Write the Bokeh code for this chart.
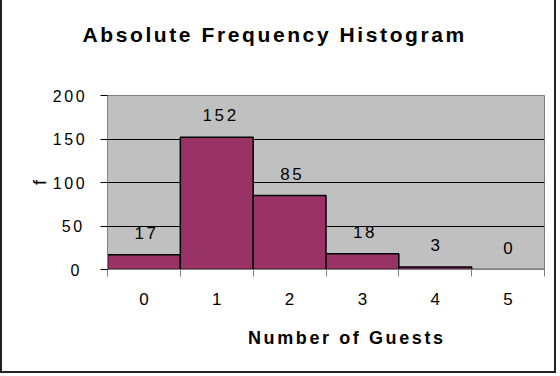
from bokeh.plotting import figure
from bokeh.models import FixedTicker, ColumnDataSource, Title
from bokeh.core.properties import value
from bokeh.embed import file_html
from bokeh.resources import INLINE

guests = [0, 1, 2, 3, 4, 5]
freq = [17, 152, 85, 18, 3, 0]
x_labels = ["0", "1", "2", "3", "4", "5"]
y_ticks = [0, 50, 100, 150, 200]
title_text = "Absolute Frequency Histogram"

FONT = "Liberation Sans"

src = ColumnDataSource(dict(
    left=[g - 0.5 for g in guests],
    right=[g + 0.5 for g in guests],
    x=guests,
    top=freq,
    label=[str(f) for f in freq],
))

p = figure(width=556, height=373, output_backend="svg", toolbar_location=None,
           x_range=(-0.5, 5.5), y_range=(0, 200),
           min_border_left=105, min_border_right=14,
           min_border_top=95, min_border_bottom=104)

p.styles = {"border-left": "2px solid #222", "border-right": "2px solid #222",
            "border-bottom": "2px solid #222", "letter-spacing": "2.6px"}

p.background_fill_color = "#C0C0C0"
p.border_fill_color = "white"
p.outline_line_color = "#808080"
p.outline_line_width = 1

# blank spacer between the frame and the title
p.add_layout(Title(text=" ", text_font_size="10px", standoff=32), "above")

p.title.text = title_text
p.title.text_font = FONT
p.title.text_font_size = "21px"
p.title.text_font_style = "bold"
p.title.text_color = "black"
p.title.align = "left"
p.title.vertical_align = "bottom"
p.title.standoff = 10
p.title.offset = -25

p.quad(left="left", right="right", top="top", bottom=0, source=src,
       fill_color="#993366", line_color="black", line_width=1.5)

p.text(x="x", y="top", text="label", source=src, y_offset=-22,
       text_align="center", text_baseline="middle",
       text_font=value(FONT), text_font_size="17px", text_color="black")

# x axis
p.xaxis.ticker = FixedTicker(ticks=guests, minor_ticks=[g - 0.5 for g in guests] + [5.5])
p.xaxis.major_label_overrides = {g: l for g, l in zip(guests, x_labels)}
p.xaxis.major_tick_out = 0
p.xaxis.major_tick_in = 0
p.xaxis.minor_tick_out = 7
p.xaxis.minor_tick_in = 0
p.xaxis.minor_tick_line_color = "#808080"
p.xaxis.axis_line_color = "#808080"
p.xaxis.major_label_standoff = 16
p.xaxis.major_label_text_font = FONT
p.xaxis.major_label_text_font_size = "17px"
p.xaxis.major_label_text_color = "black"
p.xaxis.axis_label = "Number of Guests"
p.xaxis.axis_label_text_font = FONT
p.xaxis.axis_label_text_font_size = "18px"
p.xaxis.axis_label_text_font_style = "bold"
p.xaxis.axis_label_text_color = "black"
p.xaxis.axis_label_standoff = 20

# y axis
p.yaxis.ticker = FixedTicker(ticks=y_ticks)
p.yaxis.minor_tick_line_color = None
p.yaxis.major_tick_out = 7
p.yaxis.major_tick_in = 0
p.yaxis.major_tick_line_color = "black"
p.yaxis.axis_line_color = "#808080"
p.yaxis.major_label_standoff = 21
p.yaxis.major_label_text_font = FONT
p.yaxis.major_label_text_font_size = "16px"
p.yaxis.major_label_text_color = "black"
p.yaxis.axis_label = "f"
p.yaxis.axis_label_text_font = FONT
p.yaxis.axis_label_text_font_size = "18px"
p.yaxis.axis_label_text_font_style = "normal"
p.yaxis.axis_label_text_color = "black"
p.yaxis.axis_label_standoff = 0

p.xgrid.grid_line_color = None
p.ygrid.ticker = FixedTicker(ticks=[50, 100, 150])
p.ygrid.grid_line_color = "black"
p.ygrid.grid_line_width = 1

open("out.html", "w").write(file_html(p, INLINE))
